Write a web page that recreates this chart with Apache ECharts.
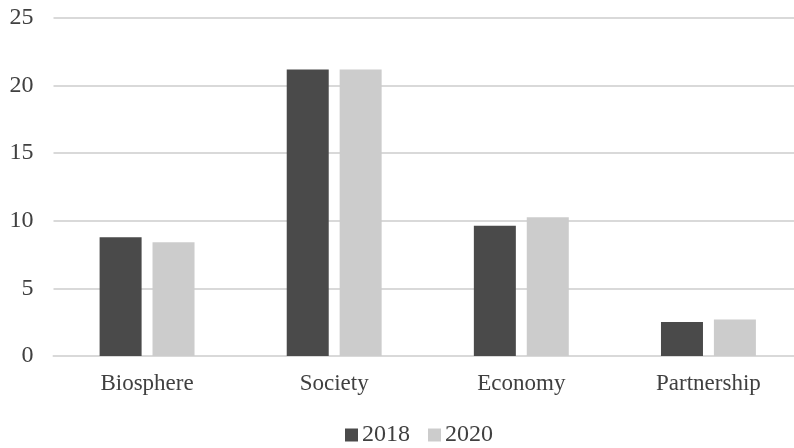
<!DOCTYPE html>
<html><head><meta charset="utf-8">
<script src="https://cdn.jsdelivr.net/npm/echarts@6/dist/echarts.min.js"></script>
<style>html,body{margin:0;padding:0;background:#fff;overflow:hidden}#c{width:802px;height:448px}</style>
</head><body><div id="c"></div>
<script>
const categories = ['Biosphere', 'Society', 'Economy', 'Partnership'];
const series2018 = [8.79, 21.19, 9.63, 2.52];
const series2020 = [8.42, 21.19, 10.27, 2.70];
const seriesNames = ['2018', '2020'];
const yTicks = [0, 5, 10, 15, 20, 25];

const font = 'Liberation Serif, Times New Roman, serif';
const chart = echarts.init(document.getElementById('c'), null, {renderer: 'canvas'});
chart.setOption({
  animation: false,
  grid: {left: 53.5, right: 0, top: 18, bottom: 92},
  legend: {
    data: seriesNames, left: 340, bottom: -4, itemWidth: 13, itemHeight: 13, itemGap: 18,
    textStyle: {fontFamily: font, fontSize: 24, color: '#404040', padding: [0, 0, 0, -1]},
    icon: 'rect'
  },
  xAxis: {
    type: 'category', data: categories,
    axisLine: {lineStyle: {color: '#d9d9d9', width: 2}},
    axisTick: {show: false},
    axisLabel: {fontFamily: font, fontSize: 23, color: '#404040', margin: 16}
  },
  yAxis: {
    type: 'value', min: yTicks[0], max: yTicks[yTicks.length - 1], interval: 5,
    axisLine: {show: false}, axisTick: {show: false},
    splitLine: {lineStyle: {color: '#d9d9d9', width: 2}},
    axisLabel: {fontFamily: font, fontSize: 24, color: '#404040', margin: 20}
  },
  series: [
    {name: seriesNames[0], type: 'bar', data: series2018, barWidth: 42, barGap: '26%',
     itemStyle: {color: '#4a4a4a'}},
    {name: seriesNames[1], type: 'bar', data: series2020, barWidth: 42,
     itemStyle: {color: '#cccccc'}}
  ]
});
</script></body></html>
